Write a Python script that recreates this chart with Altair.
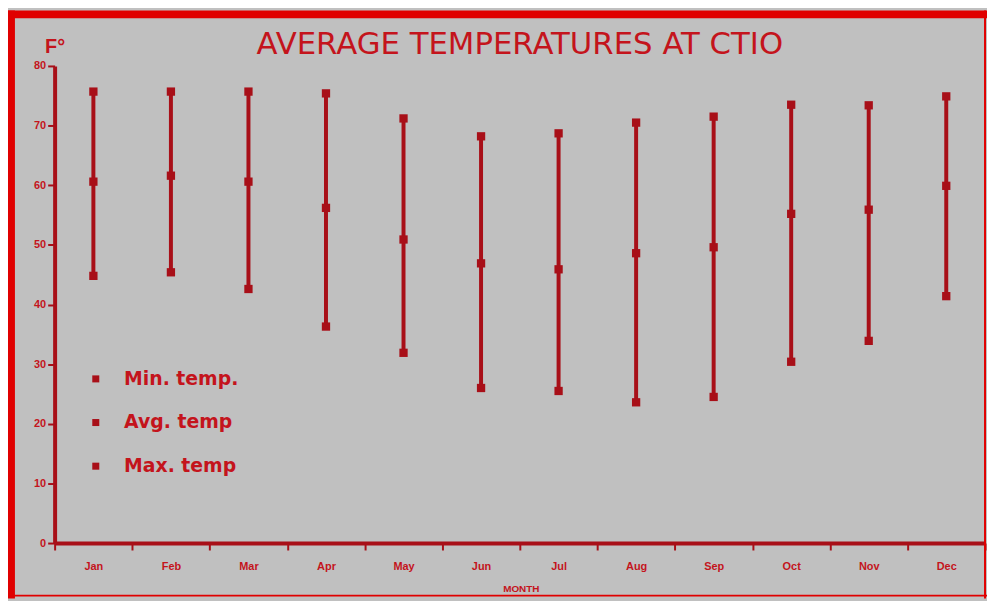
import altair as alt
import pandas as pd

months = ["Jan", "Feb", "Mar", "Apr", "May", "Jun", "Jul", "Aug", "Sep", "Oct", "Nov", "Dec"]
max_temp = [75.7, 75.7, 75.7, 75.4, 71.2, 68.2, 68.7, 70.5, 71.5, 73.5, 73.4, 74.9]
avg_temp = [60.6, 61.6, 60.6, 56.2, 50.9, 46.9, 45.9, 48.6, 49.6, 55.2, 55.9, 59.9]
min_temp = [44.8, 45.4, 42.6, 36.3, 31.9, 26.0, 25.5, 23.6, 24.5, 30.4, 33.9, 41.4]
series_names = ["Min. temp.", "Avg. temp", "Max. temp"]
y_ticks = [0, 10, 20, 30, 40, 50, 60, 70, 80]
chart_title = "AVERAGE TEMPERATURES AT CTIO"

RED = "#c4141c"
DARK = "#a80f18"
BG = "#c0c0c0"
FRAME = "#e00000"

wide = pd.DataFrame({"Month": months, "Min": min_temp, "Avg": avg_temp, "Max": max_temp})
long_rows = []
for m, lo, av, hi in zip(months, min_temp, avg_temp, max_temp):
    long_rows.append({"Month": m, "Series": series_names[0], "Temp": lo})
    long_rows.append({"Month": m, "Series": series_names[1], "Temp": av})
    long_rows.append({"Month": m, "Series": series_names[2], "Temp": hi})
long = pd.DataFrame(long_rows)

x_enc = alt.X(
    "Month:N",
    sort=months,
    scale=alt.Scale(paddingInner=0, paddingOuter=0),
    axis=alt.Axis(
        title="MONTH", titleFontSize=10, titleFontWeight="bold", titleColor=RED,
        titleX=470, titleY=46, titleBaseline="middle",
        labelAngle=0, labelFontSize=11, labelFontWeight="bold", labelColor=RED,
        labelPadding=11, tickBand="extent", tickColor=DARK, tickWidth=2, tickSize=7,
        domainColor=DARK, domainWidth=4,
    ),
)
y_scale = alt.Scale(domain=[0, 80], nice=False, zero=True)
y_axis = alt.Axis(
    title="F°", titleAngle=0, titleFontSize=20, titleFontWeight="bold", titleColor=RED,
    titleX=0, titleY=-20, titleAlign="center", titleBaseline="middle",
    values=y_ticks, labelFontSize=11, labelFontWeight="bold", labelColor=RED,
    labelPadding=2, tickColor=DARK, tickWidth=2, tickSize=7,
    domainColor=DARK, domainWidth=4, grid=False,
)

bars = alt.Chart(wide).mark_rule(color=DARK, strokeWidth=4).encode(
    x=x_enc,
    y=alt.Y("Min:Q", scale=y_scale, axis=y_axis),
    y2="Max:Q",
)

points = alt.Chart(long).mark_point(shape="square", filled=True, size=70, opacity=1).encode(
    x=alt.X("Month:N", sort=months),
    y=alt.Y("Temp:Q"),
    color=alt.Color(
        "Series:N",
        scale=alt.Scale(domain=series_names, range=[DARK, DARK, DARK]),
        legend=alt.Legend(
            title=None, orient="none", legendX=32, legendY=306,
            symbolType="square", symbolSize=50, symbolFillColor=DARK, symbolStrokeWidth=0,
            labelFontSize=19, labelFontWeight=600, labelColor=RED, labelFont="DejaVu Sans",
            labelOffset=19, rowPadding=24,
        ),
    ),
)

frame_data = alt.Data(values=[{"k": 1}])
left_strip = alt.Chart(frame_data).mark_rect(color=FRAME).encode(
    x=alt.value(-47), x2=alt.value(-40), y=alt.value(-56), y2=alt.value(537))
top_strip = alt.Chart(frame_data).mark_rect(color=FRAME).encode(
    x=alt.value(-47), x2=alt.value(940), y=alt.value(-56), y2=alt.value(-48))
right_line = alt.Chart(frame_data).mark_rect(color=FRAME).encode(
    x=alt.value(937), x2=alt.value(939), y=alt.value(-56), y2=alt.value(537))
bottom_line = alt.Chart(frame_data).mark_rect(color=FRAME).encode(
    x=alt.value(-47), x2=alt.value(940), y=alt.value(533), y2=alt.value(535))

title_text = alt.Chart(alt.Data(values=[{"t": chart_title}])).mark_text(
    font="DejaVu Sans", fontSize=31, fontWeight="normal", color=RED,
    align="center", baseline="alphabetic",
).encode(text="t:N", x=alt.value(469), y=alt.value(-12))

chart = alt.layer(left_strip, top_strip, right_line, bottom_line, title_text, bars, points).properties(
    width=938, height=481,
    autosize="none",
    padding={"left": 47, "top": 56, "right": 2, "bottom": 56},
).configure(background=BG).configure_view(stroke=None)

chart.save("out.html", embed_options={"renderer": "svg", "actions": False})
